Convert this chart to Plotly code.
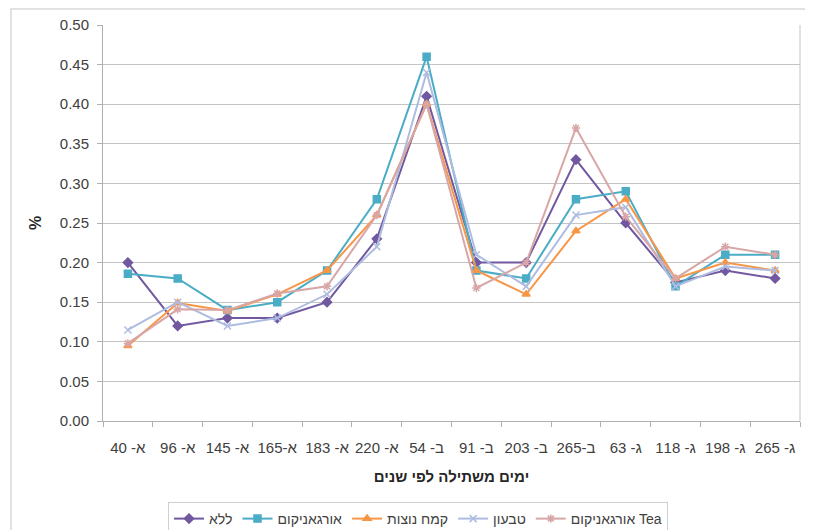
import plotly.graph_objects as go

categories = ["א- 40", "א- 96", "א- 145", "א-165", "א- 183", "א- 220", "ב- 54",
              "ב- 91", "ב- 203", "ב-265", "ג- 63", "ג- 118", "ג- 198", "ג- 265"]

lala = [0.20, 0.12, 0.13, 0.13, 0.15, 0.23, 0.41, 0.20, 0.20, 0.33, 0.25, 0.175, 0.19, 0.18]
organikum = [0.186, 0.18, 0.14, 0.15, 0.19, 0.28, 0.46, 0.19, 0.18, 0.28, 0.29, 0.17, 0.21, 0.21]
kemach = [0.095, 0.149, 0.139, 0.16, 0.19, 0.26, 0.40, 0.19, 0.16, 0.24, 0.28, 0.18, 0.20, 0.19]
tivon = [0.115, 0.15, 0.12, 0.13, 0.16, 0.22, 0.44, 0.21, 0.17, 0.26, 0.27, 0.17, 0.195, 0.19]
organikum_tea = [0.098, 0.141, 0.14, 0.161, 0.17, 0.26, 0.40, 0.168, 0.20, 0.37, 0.258, 0.18, 0.22, 0.21]

series = [
    ("ללא", lala, "#7158a0", "diamond", 7),
    ("אורגאניקום", organikum, "#4bacc6", "square", 7),
    ("קמח נוצות", kemach, "#f79646", "triangle-up", 7),
    ("טבעון", tivon, "#aebce0", "x-thin-open", 7),
    ("אורגאניקום Tea", organikum_tea, "#d8a6a6", "asterisk-open", 7),
]

FONT = "Liberation Sans, Arial, sans-serif"

fig = go.Figure()
for name, vals, color, symbol, size in series:
    fig.add_trace(go.Scatter(
        x=categories, y=vals, name=name, mode="lines+markers",
        line=dict(color=color, width=2),
        marker=dict(symbol=symbol, size=size, color=color,
                    line=dict(color=color, width=1.5)),
    ))

# the page body adds an 8px margin, so the figure is drawn 8px smaller
OFF = 8
W, H = 813 - OFF, 530 - OFF
L, T = 103 - OFF, 25 - OFF
R = W - (800 - OFF)
B = H - (421 - OFF)
pw, ph = W - L - R, H - T - B


def px(x):
    return (x - OFF - L) / pw


def py(y):
    return (H - B - (y - OFF)) / ph


fig.update_layout(
    width=W, height=H,
    margin=dict(l=L, r=R, t=T, b=B, autoexpand=False),
    paper_bgcolor="white", plot_bgcolor="white",
    font=dict(family=FONT, size=15, color="#404040"),
    showlegend=True,
    legend=dict(
        orientation="h", x=px(418), xanchor="center", y=py(502), yanchor="top",
        bordercolor="#d0d0d0", borderwidth=1, font=dict(size=14, color="#404040"),
        entrywidth=0, itemwidth=30, tracegroupgap=0,
    ),
    xaxis=dict(
        type="category", range=[-0.5, 13.5],
        showline=True, linecolor="#b0b0b0", linewidth=1,
        ticks="outside", tickson="boundaries", ticklen=5, tickcolor="#b0b0b0",
        showgrid=False, tickfont=dict(size=15), tickangle=0, automargin=False,
        ticklabelstandoff=13,
        title=dict(text="<b>ימים משתילה לפי שנים</b>", font=dict(size=15, color="#262626"),
                   standoff=16),
    ),
    yaxis=dict(
        range=[0, 0.5], dtick=0.05, tickformat=".2f",
        showline=True, linecolor="#b0b0b0", linewidth=1,
        ticks="outside", ticklen=5, tickcolor="#b0b0b0",
        showgrid=True, gridcolor="#c4c4c4", gridwidth=1,
        zeroline=False, tickfont=dict(size=15), automargin=False,
        ticklabelstandoff=5,
        title=dict(text="<b>%</b>", font=dict(size=16, color="#262626"), standoff=14),
    ),
    shapes=[
        dict(type="rect", xref="paper", yref="paper",
             x0=px(11), x1=px(812), y0=py(535), y1=py(9),
             line=dict(color="#d9d9d9", width=1.5), layer="below"),
        dict(type="line", xref="paper", yref="paper",
             x0=1, x1=1, y0=0, y1=1, line=dict(color="#c4c4c4", width=1)),
    ],
)

fig.write_html("out.html")
